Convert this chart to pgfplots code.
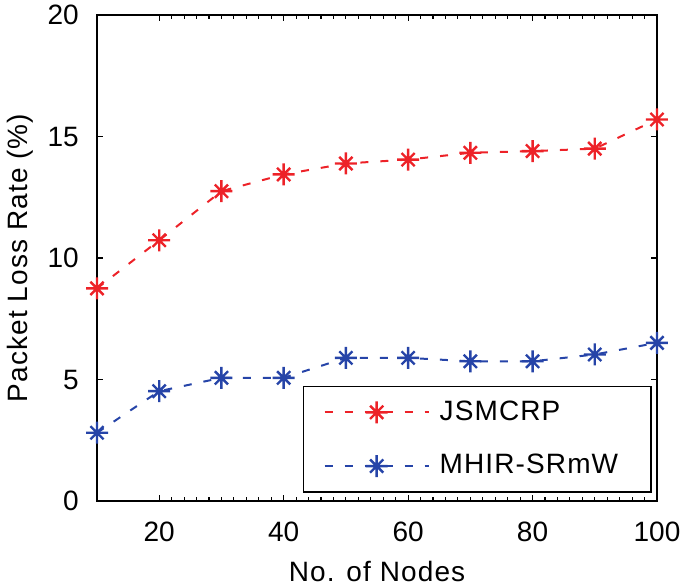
\documentclass[border=0pt]{standalone}
\usepackage{fontspec}
\setmainfont{Liberation Sans}[LetterSpace=4]
\newfontfamily\tickfont{Liberation Sans}
\usepackage{pgfplots}
\pgfplotsset{compat=1.18}

\definecolor{jred}{RGB}{237,34,40}
\definecolor{mblue}{RGB}{38,68,168}

% matlab-like asterisk: plus and cross together
\pgfdeclareplotmark{mstar}{%
  \pgfpathmoveto{\pgfqpoint{-\pgfplotmarksize}{0pt}}%
  \pgfpathlineto{\pgfqpoint{\pgfplotmarksize}{0pt}}%
  \pgfpathmoveto{\pgfqpoint{0pt}{-\pgfplotmarksize}}%
  \pgfpathlineto{\pgfqpoint{0pt}{\pgfplotmarksize}}%
  \pgfpathmoveto{\pgfqpoint{-0.6\pgfplotmarksize}{-0.6\pgfplotmarksize}}%
  \pgfpathlineto{\pgfqpoint{0.6\pgfplotmarksize}{0.6\pgfplotmarksize}}%
  \pgfpathmoveto{\pgfqpoint{-0.6\pgfplotmarksize}{0.6\pgfplotmarksize}}%
  \pgfpathlineto{\pgfqpoint{0.6\pgfplotmarksize}{-0.6\pgfplotmarksize}}%
  \pgfusepathqstroke}

\begin{document}
\fontsize{14}{16}\selectfont
\begin{tikzpicture}
\begin{axis}[
scale only axis,
width=280pt, height=243pt,
xmin=10, xmax=100,
ymin=0, ymax=20,
xtick={20,40,60,80,100},
ytick={0,5,10,15,20},
minor x tick num=9,
tick align=inside,
major tick length=3pt,
minor tick length=1.8pt,
axis line style={line width=0.8pt},
every tick/.style={black, line width=0.6pt},
/pgf/number format/assume math mode=true,
tick label style={font=\tickfont\fontsize{14}{16}\selectfont},
xticklabel style={yshift=-5.5pt},
yticklabel style={xshift=-4.3pt},
xlabel={No. of Nodes},
ylabel={Packet Loss Rate (\%)},
xlabel style={at={(axis description cs:0.5,-0.145)}, anchor=center},
ylabel style={at={(axis description cs:-0.1375,0.5)}, anchor=center},
legend style={
  at={(0.991,0.017)},
  anchor=south east,
  draw=black,
  line width=0.8pt,
  font=\fontsize{14}{16}\selectfont,
  inner xsep=10pt, inner ysep=5pt,
  row sep=11pt,
  nodes={inner xsep=3pt},
  cells={anchor=west},
  /tikz/every odd column/.append style={column sep=2pt},
},
legend image code/.code={%
  \draw[#1, mark=none] (0pt,0pt) -- (52pt,0pt);
  \draw[#1, solid] plot coordinates {(26pt,0pt)};
},
]
\addplot [jred, line width=1pt, dash pattern=on 4pt off 6pt,
  mark=mstar, mark size=5.5pt, mark options={solid, line width=1.2pt}]
table {%
10 8.75
20 10.73
30 12.75
40 13.44
50 13.89
60 14.05
70 14.33
80 14.40
90 14.50
100 15.70
};
\addlegendentry{JSMCRP}
\addplot [mblue, line width=1pt, dash pattern=on 4pt off 6pt,
  mark=mstar, mark size=5.5pt, mark options={solid, line width=1.2pt}]
table {%
10 2.81
20 4.52
30 5.07
40 5.07
50 5.89
60 5.89
70 5.75
80 5.75
90 6.03
100 6.51
};
\addlegendentry{MHIR-SRmW\hspace*{3.5pt}}
\end{axis}
\pgfresetboundingbox
\path ([shift={(-48.5pt,-42pt)}]current axis.south west)
  rectangle ([shift={(14pt,7.5pt)}]current axis.north east);
\end{tikzpicture}
\end{document}
